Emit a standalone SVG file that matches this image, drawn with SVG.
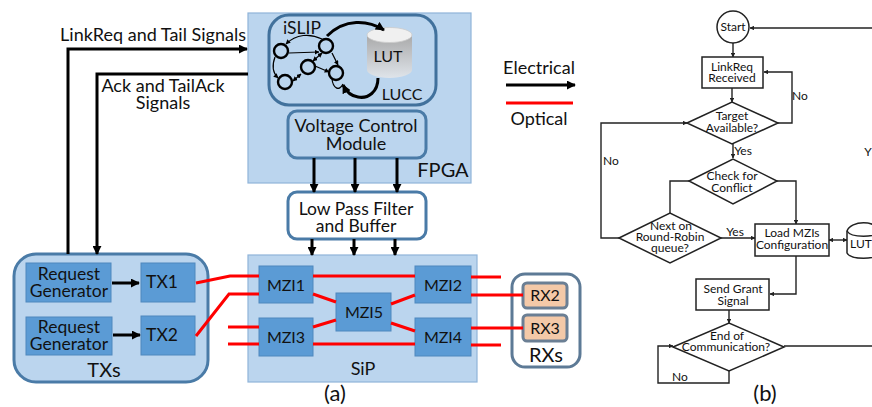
<svg xmlns="http://www.w3.org/2000/svg" width="872" height="407" viewBox="0 0 872 407">
<style>
text{font-family:Lato,"Open Sans","Liberation Sans",sans-serif;fill:#111;text-anchor:middle}
.t18{font-size:18px}.t17{font-size:17.500px}.t16{font-size:16px}.t20{font-size:20px}.t22{font-size:22px}.t12{font-size:12px}
.panel{fill:#bbd5ee;stroke:#8fb4d9;stroke-width:1.2}
.round{fill:#bbd5ee;stroke:#4a7ba7;stroke-width:3}
.blk{fill:#5b9bd5;stroke:#4f88bd;stroke-width:1}
.rx{fill:#f4c9a8;stroke:#6b7f94;stroke-width:3}
.el{fill:none;stroke:#000;stroke-width:3}
.op{fill:none;stroke:#f00;stroke-width:3}
.sm{fill:none;stroke:#000;stroke-width:1.2}
.fc{fill:#fff;stroke:#222;stroke-width:1.5}
.fl{fill:none;stroke:#222;stroke-width:1.4}
.node{fill:none;stroke:#000;stroke-width:2.4}
</style>
<defs>
<marker id="a" viewBox="0 0 10 10" refX="9" refY="5" markerWidth="4" markerHeight="4" orient="auto-start-reverse"><path d="M0 0L10 5L0 10z" fill="#000"/></marker>
<marker id="b" viewBox="0 0 10 10" refX="9" refY="5" markerWidth="3" markerHeight="3" orient="auto-start-reverse"><path d="M0 0L10 5L0 10z" fill="#000"/></marker>
<marker id="c" viewBox="0 0 10 10" refX="9" refY="5" markerWidth="3.200" markerHeight="3.200" orient="auto-start-reverse"><path d="M0 0L10 5L0 10z" fill="#222"/></marker>
<linearGradient id="cyl" x1="0" y1="0" x2="0" y2="1"><stop offset="0" stop-color="#a9a9a9"/><stop offset="1" stop-color="#dfe4ea"/></linearGradient>
</defs>

<g id="fpga"><rect class="panel" x="248" y="13" width="223" height="170"/><text class="t20" x="443" y="177">FPGA</text></g>
<g id="islip-lucc"><rect x="269" y="15" width="167" height="90" rx="20" fill="#bbd5ee" stroke="#41719c" stroke-width="3"/>
<text class="t17" x="302" y="34">iSLIP</text><text class="t16" x="402" y="100">LUCC</text></g>
<g id="lut-a"><path d="M367 35V70C367 74 377 78 389.500 78S412 74 412 70V35z" fill="url(#cyl)"/><ellipse cx="389.500" cy="35" rx="22.500" ry="7.500" fill="#f0f0f0" stroke="#ccc" stroke-width=".8"/><text class="t16" x="388" y="62">LUT</text></g>
<g id="fsm">
<circle class="node" cx="281" cy="51" r="7"/><circle class="node" cx="326" cy="46" r="7"/><circle class="node" cx="308" cy="67" r="7"/><circle class="node" cx="336" cy="73" r="7"/><circle class="node" cx="285" cy="82" r="7"/>
<path class="sm" d="M289 53L319 52" marker-end="url(#a)"/><path class="sm" d="M322 39C310 33 296 34 286 44" marker-end="url(#a)"/><path class="sm" d="M275 57C272 65 272 72 278 78" marker-end="url(#a)"/><path class="sm" d="M293 81L301 74" marker-start="url(#a)" marker-end="url(#a)"/><path class="sm" d="M322 53L313 61" marker-start="url(#a)" marker-end="url(#a)"/><path class="sm" d="M315 66L329 72" marker-end="url(#a)"/><path class="sm" d="M332 53L338 65" marker-end="url(#a)"/><path class="sm" d="M332 79C333 88 339 92 343 84"/>
<path d="M327 36C345 18 368 20 384 30" fill="none" stroke="#000" stroke-width="3" marker-end="url(#b)"/><path d="M378 78C378 92 368 99 358 97C350 96 346 91 343 85" fill="none" stroke="#000" stroke-width="3" marker-end="url(#b)"/>
</g>
<g id="vcm"><rect class="round" x="288" y="111" width="138" height="47" rx="9"/><text class="t18" x="356" y="132">Voltage Control<tspan x="356" dy="18">Module</tspan></text></g>
<g id="lpf"><rect x="288" y="192" width="138" height="47" rx="9" fill="#fff" stroke="#4a7ba7" stroke-width="3"/><text class="t17" x="356" y="215">Low Pass Filter<tspan x="356" dy="17">and Buffer</tspan></text></g>
<g id="sip"><rect class="panel" x="248" y="255" width="229" height="127"/><text class="t18" x="363" y="375">SiP</text></g>
<g id="txs"><rect class="round" x="14" y="254" width="194" height="128" rx="22"/><text class="t20" x="104" y="377">TXs</text></g>
<g id="req1"><rect class="blk" x="26" y="263" width="85" height="39"/><text class="t17" x="69" y="280">Request<tspan x="69" dy="17">Generator</tspan></text></g>
<g id="req2"><rect class="blk" x="26" y="317" width="86" height="38"/><text class="t17" x="69" y="333">Request<tspan x="69" dy="17">Generator</tspan></text></g>
<g id="tx1"><rect class="blk" x="141" y="263" width="54" height="39"/><text class="t17" x="162" y="288">TX1</text></g>
<g id="tx2"><rect class="blk" x="141" y="316" width="54" height="39"/><text class="t17" x="162" y="341">TX2</text></g>
<g id="mzi1"><rect class="blk" x="259" y="266" width="54" height="37"/><text class="t16" x="286" y="291">MZI1</text></g>
<g id="mzi2"><rect class="blk" x="415" y="266" width="56" height="37"/><text class="t16" x="443" y="291">MZI2</text></g>
<g id="mzi3"><rect class="blk" x="259" y="318" width="54" height="38"/><text class="t16" x="286" y="343">MZI3</text></g>
<g id="mzi4"><rect class="blk" x="415" y="318" width="56" height="38"/><text class="t16" x="443" y="343">MZI4</text></g>
<g id="mzi5"><rect class="blk" x="336" y="293" width="55" height="38"/><text class="t16" x="364" y="318">MZI5</text></g>
<g id="rxs"><rect x="512" y="274" width="68" height="93" rx="13" fill="#fff" stroke="#5d7a96" stroke-width="3"/><text class="t20" x="546" y="362">RXs</text></g>
<g id="rx2"><rect class="rx" x="523" y="283" width="44" height="25" rx="4"/><text class="t16" x="545" y="301">RX2</text></g>
<g id="rx3"><rect class="rx" x="523" y="315" width="44" height="26" rx="4"/><text class="t16" x="545" y="334">RX3</text></g>

<g id="connectors-a">
<path class="el" d="M68 254V49H247" marker-end="url(#b)"/>
<path class="el" d="M248 74H97V254" marker-end="url(#b)"/>
<path class="el" d="M314 158V192" marker-end="url(#b)"/><path class="el" d="M355 158V192" marker-end="url(#b)"/><path class="el" d="M397 158V192" marker-end="url(#b)"/>
<path class="el" d="M312 239V255" marker-end="url(#b)"/><path class="el" d="M354 239V255" marker-end="url(#b)"/><path class="el" d="M395 239V255" marker-end="url(#b)"/>
<path class="el" d="M112 283H139" marker-end="url(#b)"/><path class="el" d="M113 335H140" marker-end="url(#b)"/>
<path class="op" d="M196 283L230 276H259"/><path class="op" d="M196 336L229 294H259"/><path class="op" d="M228 327H259"/><path class="op" d="M228 344H259"/>
<path class="op" d="M313 276H415"/><path class="op" d="M313 344H415"/><path class="op" d="M313 294L336 302"/><path class="op" d="M313 327L336 320"/><path class="op" d="M391 304L415 295"/><path class="op" d="M391 323L415 331"/>
<path class="op" d="M471 277H501"/><path class="op" d="M471 295H523"/><path class="op" d="M471 328H523"/><path class="op" d="M471 345H501"/>
<path class="el" d="M506 85H575" marker-end="url(#b)"/><path class="op" d="M506 103H573"/>
</g>
<g id="labels-a">
<text class="t18" x="153" y="41">LinkReq and Tail Signals</text>
<text class="t18" x="163" y="92">Ack and TailAck<tspan x="163" dy="17">Signals</tspan></text>
<text class="t18" x="539" y="74">Electrical</text><text class="t18" x="539" y="125">Optical</text>
<text class="t22" x="335" y="401">(a)</text><text class="t22" x="765" y="401">(b)</text>
</g>

<g id="start"><circle class="fc" cx="733" cy="27" r="16"/><text class="t12" x="733" y="31">Start</text></g>
<g id="linkreq"><rect class="fc" x="702" y="57" width="61" height="31"/><text class="t12" x="732" y="71">LinkReq<tspan x="732" dy="11">Received</tspan></text></g>
<g id="target"><path class="fc" d="M687 123L732 102L778 123L732 144z"/><text class="t12" x="732" y="120">Target<tspan x="732" dy="12">Available?</tspan></text></g>
<g id="check"><path class="fc" d="M689 181L733 159L777 181L733 204z"/><text class="t12" x="732" y="180">Check for<tspan x="732" dy="12">Conflict</tspan></text></g>
<g id="next"><path class="fc" d="M619 238L670 213L721 238L670 263z"/><text class="t12" x="671" y="230">Next on<tspan x="670" dy="11">Round-Robin</tspan><tspan x="670" dy="11">queue?</tspan></text></g>
<g id="load"><rect class="fc" x="755" y="224" width="74" height="32"/><text class="t12" x="792" y="237">Load MZIs<tspan x="792" dy="12">Configuration</tspan></text></g>
<g id="lut-b"><path class="fc" d="M880 231C876 220 851 220 847 231V253C851 260 876 260 880 253"/><path class="fl" d="M847 231C851 238 876 238 880 231"/><text class="t12" x="861" y="248">LUT</text></g>
<g id="send"><rect class="fc" x="696" y="279" width="73" height="31"/><text class="t12" x="733" y="293">Send Grant<tspan x="733" dy="12">Signal</tspan></text></g>
<g id="end"><path class="fc" d="M673 347L729 323L784 347L729 371z"/><text class="t12" x="727" y="340">End of<tspan x="726" dy="11">Communication?</tspan></text></g>
<g id="connectors-b">
<path class="fl" d="M872 28H750" marker-end="url(#c)"/><path class="fl" d="M733 43V57" marker-end="url(#c)"/><path class="fl" d="M732 88V102" marker-end="url(#c)"/>
<path class="fl" d="M778 123H792V72H764" marker-end="url(#c)"/><path class="fl" d="M733 144V158" marker-end="url(#c)"/>
<path class="fl" d="M689 181H670V213"/><path class="fl" d="M777 181H796V224" marker-end="url(#c)"/>
<path class="fl" d="M619 238H601V123H687" marker-end="url(#c)"/><path class="fl" d="M721 238H755" marker-end="url(#c)"/>
<path class="fl" d="M829 240H847" marker-start="url(#c)" marker-end="url(#c)"/>
<path class="fl" d="M796 256V294H770" marker-end="url(#c)"/><path class="fl" d="M729 310V323" marker-end="url(#c)"/>
<path class="fl" d="M784 346H872"/><path class="fl" d="M729 371V383H658V346H673" marker-end="url(#c)"/>
</g>
<g id="labels-b">
<text class="t12" x="800" y="100">No</text><text class="t12" x="743" y="155">Yes</text><text class="t12" x="611" y="165">No</text><text class="t12" x="735" y="236">Yes</text><text class="t12" x="680" y="381">No</text><text class="t12" x="868" y="156">Y</text>
</g>
</svg>
